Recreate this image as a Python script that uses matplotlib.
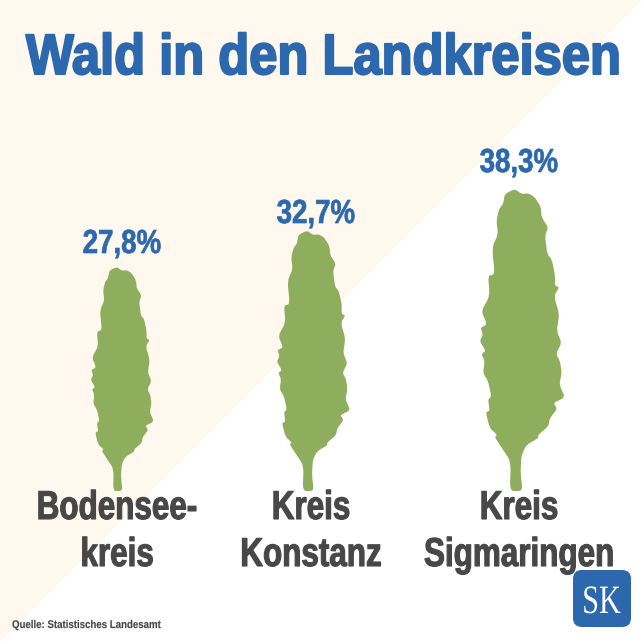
import matplotlib
matplotlib.use("Agg")
import matplotlib.pyplot as plt
from matplotlib.patches import Polygon, FancyBboxPatch, PathPatch
from matplotlib.path import Path
from matplotlib.patheffects import AbstractPathEffect
from matplotlib.transforms import Affine2D
import numpy as np

# Data
districts = ["Bodensee-\nkreis", "Kreis\nKonstanz", "Kreis\nSigmaringen"]
forest_share = [27.8, 32.7, 38.3]
value_labels = ["27,8%", "32,7%", "38,3%"]
title = "Wald in den Landkreisen"
source = "Quelle: Statistisches Landesamt"

BLUE = "#2c68ae"
GREEN = "#8fae5d"
CREAM = "#fff8ef"
DARK = "#474748"
FONT = ["Liberation Sans", "DejaVu Sans"]
HEIGHT = 644


class Condense(AbstractPathEffect):
    """Rescale text about its anchor (x, baseline) and thicken its strokes."""
    def __init__(self, cx, cy, sx, sy=1.0, weight=0.0):
        super().__init__()
        self.cx, self.cy, self.sx, self.sy, self.weight = cx, cy, sx, sy, weight

    def draw_path(self, renderer, gc, tpath, affine, rgbFace=None):
        t = affine + (Affine2D().translate(-self.cx, -self.cy)
                      .scale(self.sx, self.sy).translate(self.cx, self.cy))
        gc0 = renderer.new_gc()
        gc0.copy_properties(gc)
        if self.weight > 0 and rgbFace is not None:
            gc0.set_linewidth(self.weight)
            gc0.set_foreground(rgbFace)
        else:
            gc0.set_linewidth(0)
        renderer.draw_path(gc0, tpath, t, rgbFace)
        gc0.restore()


# Leaf silhouette (x offset, y from top), reference units
leaf_x = [165,185,205,225,243,245,265,255,262,275,285,285,298,282,298,290,305,288,300,305,298,315,280,292,270,265,235,235,200,185,182,188,150,153,120,105,112,90,78,90,85,95,85,70,75,65,78,60,70,62,82,65,90,85,105,97,115,110,118,130,135]
leaf_y = [55,70,68,80,110,140,170,195,250,265,310,345,348,375,430,480,515,548,570,605,640,678,695,712,740,765,790,800,820,850,900,958,958,870,820,797,790,770,722,718,685,675,630,605,570,548,540,510,490,470,460,420,375,315,310,230,190,150,115,100,70]
leaf = np.column_stack([(np.array(leaf_x) - 170) / 903, (958 - np.array(leaf_y)) / 903])


def rounded_closed(points, r=0.3):
    """Closed outline whose corners are softened by short quadratic curves."""
    prev_pts = np.roll(points, 1, axis=0)
    next_pts = np.roll(points, -1, axis=0)
    enter = points + (prev_pts - points) * r
    leave = points + (next_pts - points) * r
    verts = [leave[-1]]
    codes = [Path.MOVETO]
    for a, p, b in zip(enter, points, leave):
        verts += [a, p, b]
        codes += [Path.LINETO, Path.CURVE3, Path.CURVE3]
    return Path(np.array(verts), codes)


fig = plt.figure(figsize=(6.44, 6.44), dpi=100, facecolor="white")
ax = fig.add_axes([0, 0, 1, 1])
ax.set_xlim(0, 644)
ax.set_ylim(644, 0)
ax.axis("off")

ax.add_patch(Polygon([(0, 0), (642, 0), (0, 642)], closed=True, fc=CREAM, ec="none", zorder=0))

tree_x = [118, 308.5, 516.5]
label_x = [122, 316, 519]
label_y = [253, 223, 172]
name_x = [117, 311, 519]
slope, offset = 7.43, 17.5
base = 491


def squeezed(x, y, s, size, sx, color, weight=0.8, sy=1.0):
    t = ax.text(x, y, s, ha="center", va="baseline", color=color, fontsize=size,
                fontweight="bold", family=FONT, zorder=5)
    t.set_path_effects([Condense(x, HEIGHT - y, sx, sy, weight)])
    return t


for tx, lx, ly, nx, v, lab, d in zip(tree_x, label_x, label_y, name_x, forest_share, value_labels, districts):
    h = v * slope + offset
    pts = np.column_stack([tx + leaf[:, 0] * h, base - leaf[:, 1] * h])
    ax.add_patch(PathPatch(rounded_closed(pts), fc=GREEN, ec="none", zorder=2))
    squeezed(lx, ly, lab, 24, 0.83, BLUE, weight=0.5)
    first, second = d.split("\n")
    squeezed(nx, 519, first, 29, 0.78, DARK)
    squeezed(nx, 566, second, 29, 0.78, DARK)

squeezed(323.5, 74, title, 37, 0.986, BLUE, weight=1.5, sy=41 / 37)
t = ax.text(12, 628, source, ha="left", va="baseline", color=DARK, fontsize=8, fontweight="bold", family=FONT)
t.set_path_effects([Condense(12, HEIGHT - 628, 0.87, 1.0, 0.1)])

ax.add_patch(FancyBboxPatch((573, 570), 58, 57, boxstyle="round,pad=0,rounding_size=9", fc=BLUE, ec="none", zorder=6))
t = ax.text(601.5, 613, "SK", ha="center", va="baseline", color="white", fontsize=29, family="Liberation Serif", zorder=7)
t.set_path_effects([Condense(601.5, HEIGHT - 613, 0.75, 1.0, 0)])

fig.savefig("out.png", dpi=100)
